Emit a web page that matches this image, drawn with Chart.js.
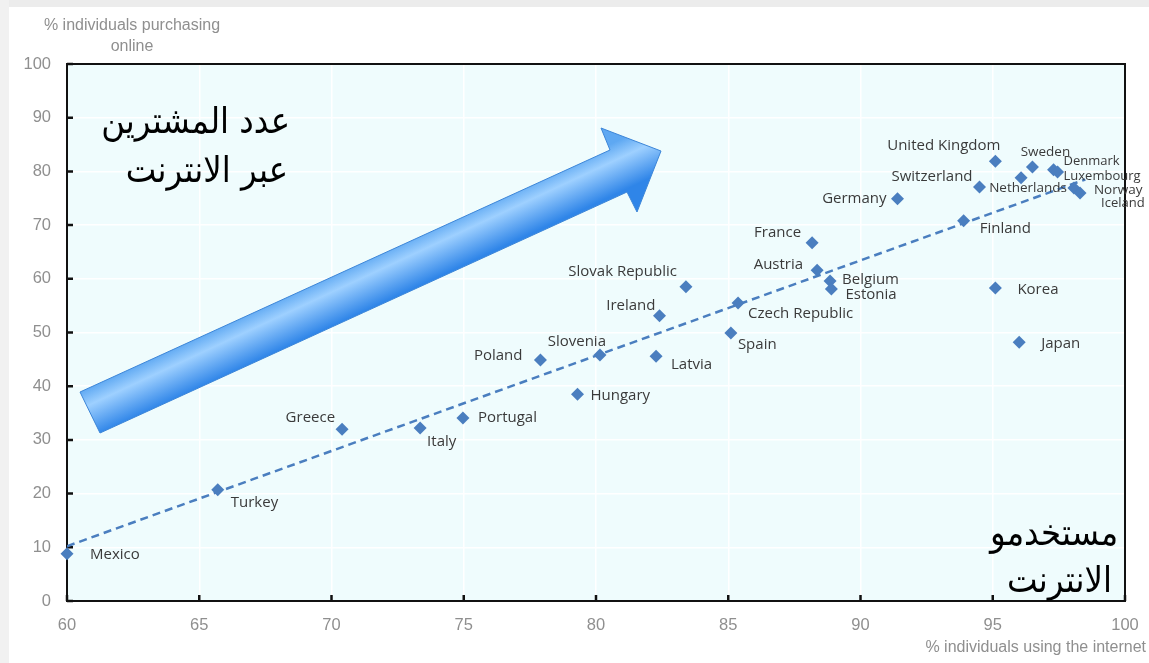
<!DOCTYPE html>
<html>
<head>
<meta charset="utf-8">
<script src="https://cdn.jsdelivr.net/npm/chart.js@4.4.1/dist/chart.umd.min.js"></script>
<style>
  html, body { margin: 0; padding: 0; background: #fff; }
  #wrap { width: 1149px; height: 663px; position: relative; }
</style>
</head>
<body>
<div id="wrap"><canvas id="c" width="1149" height="663"></canvas></div>
<script>
// ── DATA ────────────────────────────────────────────────────────────────
const countries = [
  'Mexico', 'Turkey', 'Greece', 'Italy', 'Portugal', 'Poland', 'Slovenia',
  'Hungary', 'Latvia', 'Ireland', 'Slovak Republic', 'Czech Republic', 'Spain',
  'France', 'Austria', 'Belgium', 'Estonia', 'Germany', 'Finland',
  'United Kingdom', 'Korea', 'Japan', 'Switzerland', 'Netherlands', 'Sweden',
  'Denmark', 'Luxembourg', 'Norway', 'Iceland'
];
const internetUse = [
  60.0, 65.7, 70.4, 73.35, 74.97, 77.9, 80.15,
  79.3, 82.27, 82.4, 83.4, 85.37, 85.1,
  88.17, 88.36, 88.85, 88.9, 91.4, 93.9,
  95.1, 95.1, 96.0, 94.5, 96.07, 96.5,
  97.3, 97.45, 98.07, 98.3
];
const onlinePurchase = [
  8.8, 20.7, 32.0, 32.2, 34.1, 44.9, 45.8,
  38.5, 45.6, 53.1, 58.5, 55.5, 49.9,
  66.7, 61.6, 59.6, 58.1, 74.9, 70.8,
  81.9, 58.3, 48.2, 77.1, 78.8, 80.8,
  80.3, 79.9, 76.9, 76.0
];
const trendX = [60, 98.5];
const trendY = [10.2, 78.5];
const xTicks = [60, 65, 70, 75, 80, 85, 90, 95, 100];
const yTicks = [0, 10, 20, 30, 40, 50, 60, 70, 80, 90, 100];

// label placement: [dx, dy, align, fontSize]
const labelPlace = {
  'Mexico':          [23, 1, 'left', 15],
  'Turkey':          [13, 13, 'left', 15],
  'Greece':          [-7, -11, 'right', 15],
  'Italy':           [7, 14, 'left', 15],
  'Portugal':        [15, 0, 'left', 15],
  'Poland':          [-18, -4, 'right', 15],
  'Slovenia':        [6, -13, 'right', 15],
  'Hungary':         [13, 1, 'left', 15],
  'Latvia':          [15, 9, 'left', 15],
  'Ireland':         [-4, -10, 'right', 15],
  'Slovak Republic': [-9, -15, 'right', 15],
  'Czech Republic':  [10, 11, 'left', 15],
  'Spain':           [7, 12, 'left', 15],
  'France':          [-11, -10, 'right', 15],
  'Austria':         [-14, -5, 'right', 15],
  'Belgium':         [12, -1, 'left', 15],
  'Estonia':         [14, 6, 'left', 15],
  'Germany':         [-11, 0, 'right', 15],
  'Finland':         [16, 8, 'left', 15],
  'United Kingdom':  [5, -15, 'right', 15],
  'Korea':           [22, 2, 'left', 15],
  'Japan':           [22, 2, 'left', 15],
  'Switzerland':     [-7, -10, 'right', 15],
  'Netherlands':     [7, 10, 'center', 13.5],
  'Sweden':          [13, -15, 'center', 13.5],
  'Denmark':         [10, -8, 'left', 13],
  'Luxembourg':      [6, 4, 'left', 13],
  'Norway':          [20, 2, 'left', 13.5],
  'Iceland':         [21, 10, 'left', 13]
};

const BLUE = '#4a7ebf';
const GREY = '#8f8f8f';
const SANS = '"Liberation Sans", Arial, sans-serif';

// ── PLUGINS ─────────────────────────────────────────────────────────────
const frame = {
  id: 'frame',
  beforeDraw(chart) {
    const { ctx, chartArea: a } = chart;
    ctx.save();
    ctx.fillStyle = '#ffffff';
    ctx.fillRect(0, 0, chart.width, chart.height);
    ctx.fillStyle = '#ececec';
    ctx.fillRect(0, 0, chart.width, 7);
    ctx.fillStyle = '#f1f1f1';
    ctx.fillRect(0, 0, 9, chart.height);
    ctx.fillStyle = '#effcfd';
    ctx.fillRect(a.left, a.top, a.right - a.left, a.bottom - a.top);
    ctx.restore();
  },
  beforeDatasetsDraw(chart) {
    const { ctx, chartArea: a, scales } = chart;
    ctx.save();
    ctx.strokeStyle = '#111';
    ctx.lineWidth = 2;
    ctx.strokeRect(a.left, a.top, a.right - a.left, a.bottom - a.top);
    ctx.lineWidth = 2.5;
    ctx.beginPath();
    yTicks.forEach(v => {
      const y = scales.y.getPixelForValue(v);
      ctx.moveTo(a.left, y); ctx.lineTo(a.left + 6, y);
    });
    xTicks.forEach(v => {
      const x = scales.x.getPixelForValue(v);
      ctx.moveTo(x, a.bottom); ctx.lineTo(x, a.bottom - 6);
    });
    ctx.stroke();
    ctx.restore();
  },
  afterDatasetsDraw(chart) {
    const { ctx } = chart;
    const meta = chart.getDatasetMeta(0);
    ctx.save();
    ctx.fillStyle = '#3a3a3a';
    ctx.textBaseline = 'middle';
    meta.data.forEach((pt, i) => {
      const p = labelPlace[countries[i]];
      ctx.font = p[3] + 'px "Open Sans", sans-serif';
      ctx.textAlign = p[2];
      ctx.fillText(countries[i], pt.x + p[0], pt.y + p[1]);
    });

    // big arrow
    const pts = [[80, 392], [610, 150], [601, 128], [661, 151], [637, 212], [627, 192], [100, 433]];
    const g = ctx.createLinearGradient(340, 270, 360, 313);
    g.addColorStop(0, '#5ea8f2');
    g.addColorStop(0.35, '#9ed0ff');
    g.addColorStop(1, '#2f85e8');
    ctx.beginPath();
    pts.forEach((q, i) => i ? ctx.lineTo(q[0], q[1]) : ctx.moveTo(q[0], q[1]));
    ctx.closePath();
    ctx.fillStyle = g;
    ctx.fill();
    ctx.strokeStyle = '#3d86d8';
    ctx.lineWidth = 1;
    ctx.stroke();

    // arabic notes
    ctx.fillStyle = '#000';
    ctx.font = '36px "DejaVu Sans Condensed", "DejaVu Sans", sans-serif';
    ctx.direction = 'rtl';
    ctx.textAlign = 'right';
    ctx.textBaseline = 'alphabetic';
    ctx.fillText('عدد المشترين', 290, 133);
    ctx.fillText('عبر الانترنت', 288, 182);
    ctx.fillText('مستخدمو', 1118, 545);
    ctx.fillText('الانترنت', 1112, 592);

    // axis titles
    ctx.direction = 'ltr';
    ctx.fillStyle = GREY;
    ctx.font = '16px ' + SANS;
    ctx.textAlign = 'center';
    ctx.textBaseline = 'middle';
    ctx.fillText('% individuals purchasing', 132, 26);
    ctx.fillText('online', 132, 47);
    ctx.textAlign = 'right';
    ctx.fillText('% individuals using the internet', 1146, 648);
    ctx.restore();
  }
};

// ── CHART ───────────────────────────────────────────────────────────────
new Chart(document.getElementById('c'), {
  type: 'scatter',
  data: {
    datasets: [
      {
        data: internetUse.map((x, i) => ({ x, y: onlinePurchase[i] })),
        pointStyle: 'rectRot',
        pointRadius: 6.5,
        pointHoverRadius: 6.5,
        backgroundColor: BLUE,
        borderColor: BLUE,
        borderWidth: 0,
        clip: false
      },
      {
        type: 'line',
        data: trendX.map((x, i) => ({ x, y: trendY[i] })),
        borderColor: BLUE,
        borderWidth: 2.5,
        borderDash: [8, 5],
        pointRadius: 0,
        fill: false
      }
    ]
  },
  options: {
    responsive: false,
    animation: false,
    events: [],
    layout: { padding: { top: 64, right: 24, left: 0, bottom: 0 } },
    plugins: { legend: { display: false }, tooltip: { enabled: false } },
    scales: {
      x: {
        type: 'linear', min: 60, max: 100,
        afterFit: s => { s.height = 62; s.paddingLeft = 0; s.paddingRight = 0; },
        afterBuildTicks: s => { s.ticks = xTicks.map(v => ({ value: v })); },
        grid: { color: '#ffffff', lineWidth: 1.5, drawTicks: false },
        border: { display: false },
        ticks: { color: GREY, padding: 15, font: { family: SANS, size: 16.5 } }
      },
      y: {
        type: 'linear', min: 0, max: 100,
        afterFit: s => { s.width = 67; s.paddingTop = 0; s.paddingBottom = 0; },
        afterBuildTicks: s => { s.ticks = yTicks.map(v => ({ value: v })); },
        grid: { color: '#ffffff', lineWidth: 1.5, drawTicks: false },
        border: { display: false },
        ticks: { color: GREY, padding: 16, font: { family: SANS, size: 16.5 } }
      }
    }
  },
  plugins: [frame]
});
</script>
</body>
</html>
